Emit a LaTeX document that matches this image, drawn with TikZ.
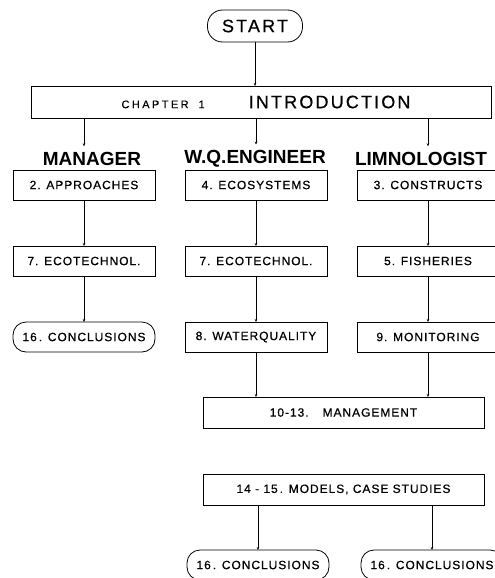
\documentclass[tikz,border=0pt]{standalone}
\usepackage{fontspec}
\newfontfamily\boxfont[LetterSpace=8,FakeBold=0.6]{Liberation Sans}
\newfontfamily\wideboxfont[LetterSpace=12,FakeBold=0.6]{Liberation Sans}
\newfontfamily\chapfont[LetterSpace=22,FakeBold=0.6]{Liberation Sans}
\newfontfamily\headfont{Liberation Sans}
\usepackage{tikz}
\usetikzlibrary{positioning}
\usetikzlibrary{arrows.meta}

\begin{document}
\begin{tikzpicture}[x=1pt,y=1pt,node distance=46pt,
	every node/.style={inner sep=1,outer sep=0,font=\boxfont\fontsize{12}{14}\selectfont},
	box/.style={draw,thick,minimum width=142pt,minimum height=30pt},
	term/.style={box,rounded corners=13pt},
	role/.style={font=\headfont\bfseries\fontsize{19}{21}\selectfont,inner sep=0,outer sep=6pt},
	>={Stealth[length=3pt,width=2.5pt]}]
	\useasboundingbox (0,0) rectangle (495,-578);
	% top of the chart
	\node[term,minimum width=95pt,minimum height=32pt,rounded corners=15pt,font=\wideboxfont\fontsize{18}{20}\selectfont] (start) at (255,-26) {START};
	\node[box,minimum width=460pt,minimum height=32pt] (intro) at (261,-102)
		{\hspace*{10pt}{\chapfont\fontsize{11}{13}\selectfont CHAPTER\hspace{10pt}1}\hspace{44pt}{\wideboxfont\fontsize{18}{20}\selectfont INTRODUCTION}};
	% three readers
	\node (approach) [box] at (84,-185) {2. APPROACHES};
	\node (ecosys) [box,right=30pt of approach] {4. ECOSYSTEMS};
	\node (construct) [box,right=30pt of ecosys] {3. CONSTRUCTS};
	\node (mgr) [role] at (92,-159) {MANAGER};
	\node (wqe) [role] at (255,-159) {W.Q.ENGINEER};
	\node (limno) [role] at (421,-159) {LIMNOLOGIST};
	\node (ecotechA) [box,below=of approach] {7. ECOTECHNOL.};
	\node (ecotechB) [box,below=of ecosys] {7. ECOTECHNOL.};
	\node (fish) [box,below=of construct] {5. FISHERIES};
	\node (conclA) [term,below=of ecotechA] {16\,. CONCLUSIONS};
	\node (waterq) [box,below=of ecotechB] {8. WATERQUALITY};
	\node (monitor) [box,below=of fish] {9. MONITORING};
	% management and models
	\node (manage) [box,minimum width=281pt,minimum height=31pt] at (343.5,-412.5) {10-13.\hspace{14pt}MANAGEMENT};
	\node (models) [box,minimum width=281pt,minimum height=31pt] at (343.5,-489.5) {14 - 15\,. MODELS, CASE STUDIES};
	\node (conclB) [term] at (258,-565) {16\,. CONCLUSIONS};
	\node (conclC) [term] at (432,-565) {16\,. CONCLUSIONS};
	\path[->,thick]
		(start) edge (start |- intro.north)
		(intro.south -| approach) edge (mgr.north -| approach)
		(intro.south -| ecosys) edge (wqe.north -| ecosys)
		(intro.south -| construct) edge (limno.north -| construct)
		(approach) edge (ecotechA)
		(ecosys) edge (ecotechB)
		(construct) edge (fish)
		(ecotechA) edge (conclA)
		(ecotechB) edge (waterq)
		(fish) edge (monitor)
		(waterq) edge (waterq |- manage.north)
		(monitor) edge (monitor |- manage.north)
		(models.south -| conclB) edge (conclB)
		(models.south -| conclC) edge (conclC);
\end{tikzpicture}
\end{document}
